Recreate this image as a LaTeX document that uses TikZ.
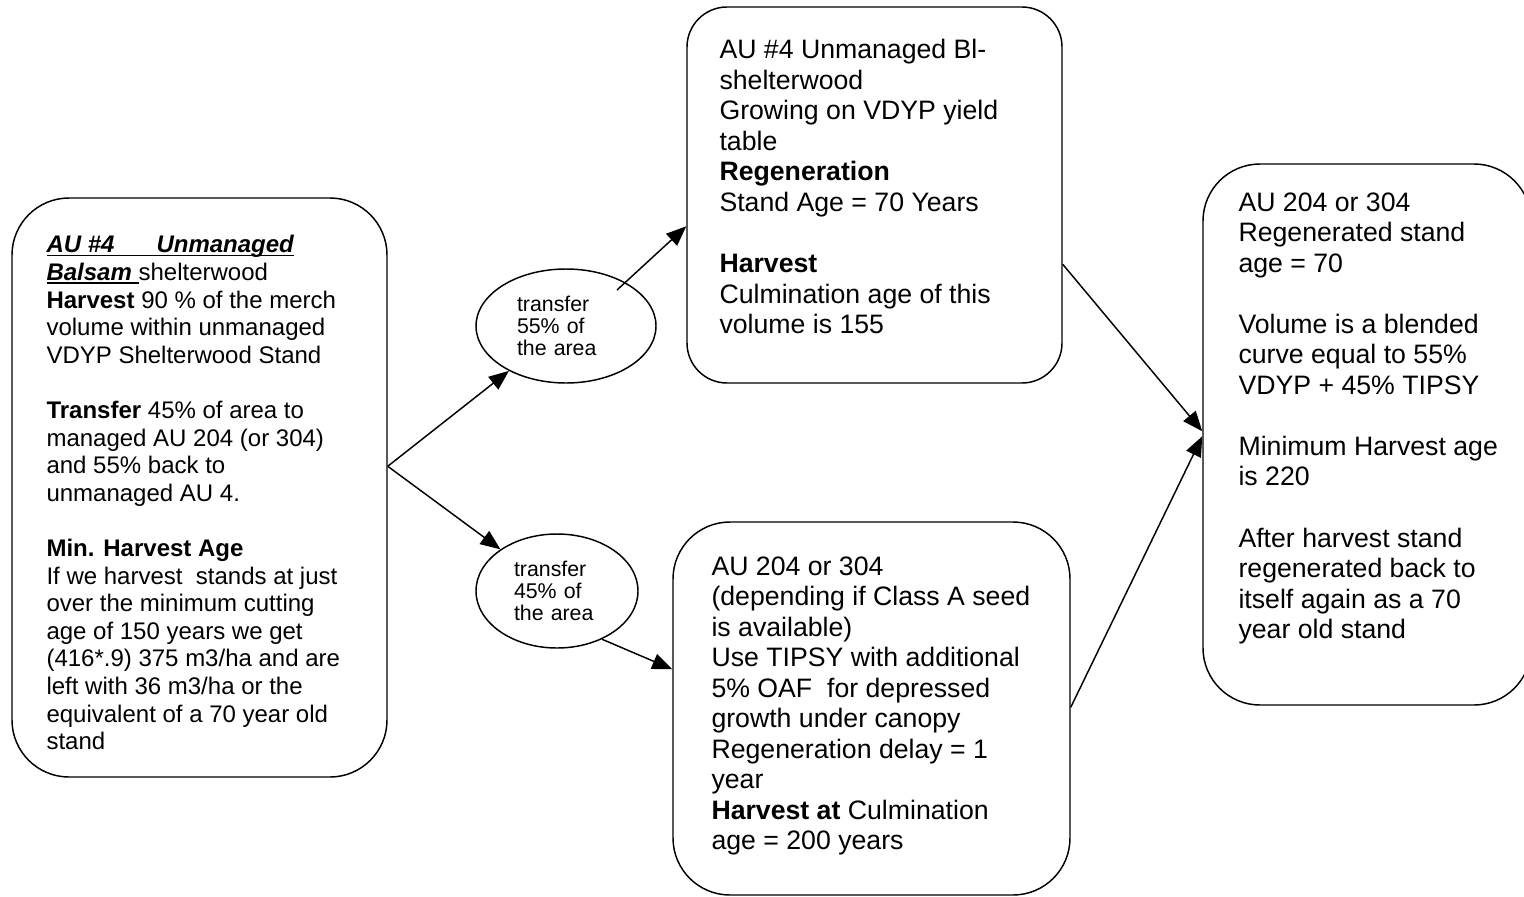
\documentclass[tikz,border=0pt]{standalone}
\usepackage{fontspec}
\setmainfont{Liberation Sans}
\newsavebox{\ulbox}
\newcommand{\auline}[1]{\sbox{\ulbox}{#1}\rlap{\rule[-2.6pt]{\wd\ulbox}{1.3pt}}\usebox{\ulbox}}
\usetikzlibrary{arrows.meta,shapes.geometric}
\usetikzlibrary{positioning}

\begin{document}
\begin{tikzpicture}[x=0.75pt, y=-0.75pt,
    standbox/.style={draw, line width=1.1pt, rounded corners=42.75pt},
    boxtext/.style={anchor=north west, inner sep=0pt, align=left,
      font=\fontsize{20}{22.9}\selectfont},
    areacell/.style={draw, ellipse, line width=1.1pt, inner sep=0pt,
      align=left, minimum height=85.5pt, font=\fontsize{16}{16.75}\selectfont},
    flow/.style={line width=1.1pt, -{Triangle[length=15pt,width=12pt]}}]
    \useasboundingbox (0,0) rectangle (1524,896);

    \node[standbox, minimum width=281.25pt, minimum height=434.25pt] (au4) at (199.5,487.5) {};
    \node[boxtext, font=\fontsize{18}{20.7}\selectfont] (au4txt) at ([shift={(35,38)}]au4.north west)
    {\auline{\textbf{\textit{AU \#4\hspace{26.5pt} Unmanaged}}}\\
      \auline{\textbf{\textit{Balsam }}}shelterwood\\
      \textbf{Harvest} 90 \% of the merch\\
      volume within unmanaged\\
      VDYP Shelterwood Stand\\[20.7pt]
      \textbf{Transfer} 45\% of area to\\
      managed AU 204 (or 304)\\
      and 55\% back to\\
      unmanaged AU 4.\\[20.7pt]
      \textbf{Min. Harvest Age}\\
      If we harvest\ \ stands at just\\
      over the minimum cutting\\
      age of 150 years we get\\
      (416*.9) 375 m3/ha and are\\
      left with 36 m3/ha or the\\
      equivalent of a 70 year old\\
      stand};

    \node[areacell, minimum width=135pt, text width=73.5pt] (keep55) at (566,326) {transfer\\55\% of\\the area};
    \node[areacell, minimum width=121.5pt, text width=64.5pt] (move45) at (557,591) {transfer\\45\% of\\the area};

    \node[standbox, rounded corners=30pt, minimum width=281.25pt, minimum height=282pt] (bl4) at (874.5,195) {};
    \node[boxtext] (bl4txt) at ([shift={(33,33)}]bl4.north west)
    {AU \#4 Unmanaged Bl-\\
      shelterwood\\
      Growing on VDYP yield\\
      table\\
      \textbf{Regeneration}\\
      Stand Age = 70 Years\\[22.9pt]
      \textbf{Harvest}\\
      Culmination age of this\\
      volume is 155};

    \node[standbox, minimum width=297.75pt, minimum height=279.75pt] (au204) at (871.5,708.5) {};
    \node[boxtext] (au204txt) at ([shift={(39,35)}]au204.north west)
    {AU 204 or 304\\
      (depending if Class A seed\\
      is available)\\
      Use TIPSY with additional\\
      5\% OAF\ \ for depressed\\
      growth under canopy\\
      Regeneration delay = 1\\
      year\\
      \textbf{Harvest at} Culmination\\
      age = 200 years};

    \node[standbox, minimum width=246pt, minimum height=405.75pt] (blend) at (1367,434.5) {};
    \node[boxtext] (blendtxt) at ([shift={(36,29)}]blend.north west)
    {AU 204 or 304\\
      Regenerated stand\\
      age = 70\\[22.9pt]
      Volume is a blended\\
      curve equal to 55\%\\
      VDYP + 45\% TIPSY\\[22.9pt]
      Minimum Harvest age\\
      is 220\\[22.9pt]
      After harvest stand\\
      regenerated back to\\
      itself again as a 70\\
      year old stand};

    \coordinate (fork) at ([shift={(0,269)}]au4.north east);
    \coordinate (keep55out) at (617,290);

    \draw[flow] (fork) -- (keep55);
    \draw[flow] (fork) -- (move45);
    \draw[flow] (keep55out) -- ([shift={(0,220)}]bl4.north west);
    \draw[flow] (move45.-47) -- ([shift={(0,148)}]au204.north west);
    \draw[flow] ([shift={(0,258)}]bl4.north east) -- ([shift={(0,268)}]blend.north west);
    \draw[flow] ([shift={(0,186)}]au204.north east) -- ([shift={(0,273)}]blend.north west);
\end{tikzpicture}
\end{document}
